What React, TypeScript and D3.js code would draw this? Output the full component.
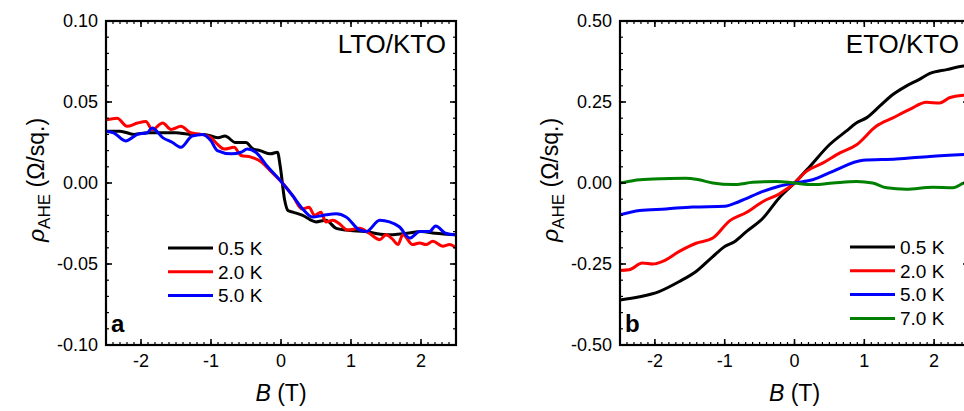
import React from 'react';
import * as d3 from 'd3';

// B (T) vs rho_AHE (Ohm/sq.)
const ltoK05: [number, number][] = [
  [-2.5, 0.032], [-2.3, 0.032], [-2.1, 0.030], [-1.9, 0.031], [-1.7, 0.031], [-1.5, 0.031],
  [-1.3, 0.030], [-1.1, 0.030], [-0.9, 0.028], [-0.8, 0.029], [-0.65, 0.025], [-0.5, 0.025],
  [-0.4, 0.021], [-0.3, 0.020], [-0.15, 0.018], [-0.05, 0.019], [-0.01, 0.010], [0.05, -0.010],
  [0.1, -0.017], [0.17, -0.018], [0.31, -0.020], [0.5, -0.024], [0.64, -0.023], [0.79, -0.028],
  [0.93, -0.029], [1.2, -0.030], [1.5, -0.032], [1.8, -0.031], [2.0, -0.030], [2.2, -0.031],
  [2.5, -0.032],
];
const ltoK20: [number, number][] = [
  [-2.5, 0.039], [-2.34, 0.040], [-2.2, 0.035], [-2.05, 0.037], [-1.93, 0.038], [-1.84, 0.033],
  [-1.69, 0.037], [-1.57, 0.033], [-1.43, 0.035], [-1.29, 0.031], [-1.14, 0.030], [-1.0, 0.028],
  [-0.91, 0.024], [-0.81, 0.021], [-0.67, 0.022], [-0.57, 0.017], [-0.43, 0.016], [-0.28, 0.013],
  [-0.14, 0.007], [0, 0.001], [0.17, -0.008], [0.3, -0.016], [0.4, -0.015], [0.48, -0.020],
  [0.57, -0.018], [0.64, -0.024], [0.74, -0.023], [0.83, -0.025], [0.95, -0.029], [1.12, -0.028],
  [1.26, -0.031], [1.41, -0.035], [1.5, -0.032], [1.6, -0.035], [1.67, -0.038], [1.74, -0.032],
  [1.88, -0.038], [1.98, -0.037], [2.07, -0.038], [2.17, -0.036], [2.31, -0.039], [2.41, -0.038],
  [2.5, -0.040],
];
const ltoK50: [number, number][] = [
  [-2.5, 0.032], [-2.39, 0.031], [-2.22, 0.026], [-2.05, 0.030], [-1.91, 0.031], [-1.84, 0.034],
  [-1.69, 0.028], [-1.55, 0.025], [-1.43, 0.022], [-1.27, 0.029], [-1.12, 0.030], [-1.0, 0.026],
  [-0.91, 0.020], [-0.71, 0.018], [-0.57, 0.019], [-0.48, 0.021], [-0.36, 0.019], [-0.19, 0.010],
  [0, 0.001], [0.17, -0.008], [0.31, -0.016], [0.45, -0.021], [0.6, -0.020], [0.79, -0.019],
  [0.93, -0.021], [1.12, -0.029], [1.22, -0.030], [1.41, -0.023], [1.55, -0.024], [1.69, -0.027],
  [1.84, -0.034], [1.98, -0.030], [2.12, -0.030], [2.21, -0.0265], [2.35, -0.031], [2.5, -0.032],
];

const etoK05: [number, number][] = [
  [-2.5, -0.361], [-2.22, -0.351], [-1.94, -0.335], [-1.65, -0.304], [-1.41, -0.273],
  [-1.17, -0.227], [-1.0, -0.196], [-0.86, -0.181], [-0.69, -0.150], [-0.45, -0.108],
  [-0.22, -0.046], [0, 0], [0.22, 0.051], [0.5, 0.118], [0.74, 0.160], [0.89, 0.186],
  [1.03, 0.201], [1.22, 0.237], [1.41, 0.273], [1.6, 0.299], [1.79, 0.320], [1.94, 0.338],
  [2.18, 0.350], [2.43, 0.361], [2.5, 0.362],
];
const etoK20: [number, number][] = [
  [-2.5, -0.270], [-2.37, -0.268], [-2.18, -0.247], [-2.03, -0.250], [-1.89, -0.242],
  [-1.65, -0.211], [-1.41, -0.186], [-1.17, -0.170], [-0.93, -0.117], [-0.69, -0.091],
  [-0.45, -0.057], [-0.22, -0.034], [0, 0], [0.17, 0.036], [0.41, 0.062], [0.65, 0.093],
  [0.89, 0.118], [1.17, 0.175], [1.41, 0.201], [1.65, 0.227], [1.89, 0.249], [2.08, 0.247],
  [2.22, 0.263], [2.43, 0.271], [2.5, 0.272],
];
const etoK50: [number, number][] = [
  [-2.5, -0.098], [-2.22, -0.085], [-1.84, -0.080], [-1.46, -0.074], [-1.0, -0.072],
  [-0.79, -0.057], [-0.45, -0.026], [-0.22, -0.010], [0, 0], [0.26, 0.010], [0.55, 0.036],
  [0.98, 0.070], [1.46, 0.074], [1.94, 0.082], [2.5, 0.089],
];
const etoK70: [number, number][] = [
  [-2.5, 0.0], [-2.3, 0.008], [-2.03, 0.012], [-1.56, 0.015], [-1.37, 0.010], [-1.17, 0.0],
  [-0.88, -0.005], [-0.6, 0.002], [-0.26, 0.005], [0, 0], [0.26, -0.005], [0.55, 0.0],
  [0.89, 0.005], [1.12, 0.0], [1.32, -0.015], [1.6, -0.019], [1.98, -0.013], [2.27, -0.015],
  [2.43, 0.0], [2.5, 0.003],
];

const ltoLabels = ['0.5 K', '2.0 K', '5.0 K'];
const etoLabels = ['0.5 K', '2.0 K', '5.0 K', '7.0 K'];
const seriesColors = ['#000000', '#ff0000', '#0000ff', '#008000'];

const xMajor = [-2, -1, 0, 1, 2];
const ltoYMajor = [-0.1, -0.05, 0, 0.05, 0.1];
const etoYMajor = [-0.5, -0.25, 0, 0.25, 0.5];

const FONT = '"Liberation Sans", Arial, Helvetica, sans-serif';

type PanelProps = {
  id: string;
  left: number;
  right: number;
  yDomain: [number, number];
  yMajor: number[];
  yMinorStep: number;
  series: [number, number][][];
  labels: string[];
  title: string;
  letter: string;
  legendX: number;
  legendY: number;
};

const fmtY = (v: number) => d3.format('.2f')(v).replace('−', '-');

const Panel = ({ id, left, right, yDomain, yMajor, yMinorStep, series, labels, title, letter, legendX, legendY }: PanelProps) => {
  const top = 21;
  const bottom = 345;
  const x = d3.scaleLinear().domain([-2.5, 2.5]).range([left, right]);
  const y = d3.scaleLinear().domain(yDomain).range([bottom, top]);
  const line = d3.line<[number, number]>()
    .x(d => x(d[0]))
    .y(d => y(d[1]))
    .curve(d3.curveMonotoneX);

  const xMinor = d3.range(-25, 26).map(i => i / 10);
  const nY = Math.round((yDomain[1] - yDomain[0]) / yMinorStep);
  const yMinor = d3.range(0, nY + 1).map(i => yDomain[0] + i * yMinorStep);

  const tk = '#000';
  return (
    <g>
      <defs>
        <clipPath id={`clip-${id}`}>
          <rect x={left} y={top} width={right - left} height={bottom - top} />
        </clipPath>
      </defs>
      <g clipPath={`url(#clip-${id})`}>
        {series.map((s, i) => (
          <path key={i} d={line(s) || ''} fill="none" stroke={seriesColors[i]} strokeWidth={3} strokeLinejoin="round" />
        ))}
      </g>
      {/* minor ticks */}
      {xMinor.map((v, i) => (
        <g key={'xm' + i}>
          <line x1={x(v)} x2={x(v)} y1={bottom} y2={bottom - 3} stroke={tk} strokeWidth={1.2} />
          <line x1={x(v)} x2={x(v)} y1={top} y2={top + 3} stroke={tk} strokeWidth={1.2} />
        </g>
      ))}
      {yMinor.map((v, i) => (
        <g key={'ym' + i}>
          <line x1={left} x2={left + 3} y1={y(v)} y2={y(v)} stroke={tk} strokeWidth={1.2} />
          <line x1={right} x2={right - 3} y1={y(v)} y2={y(v)} stroke={tk} strokeWidth={1.2} />
        </g>
      ))}
      {/* major ticks + labels */}
      {xMajor.map(v => (
        <g key={'xM' + v}>
          <line x1={x(v)} x2={x(v)} y1={bottom} y2={bottom - 6} stroke={tk} strokeWidth={1.6} />
          <line x1={x(v)} x2={x(v)} y1={top} y2={top + 6} stroke={tk} strokeWidth={1.6} />
          <text x={x(v)} y={bottom + 22} textAnchor="middle" fontSize={18} fontFamily={FONT}>
            {String(v).replace('−', '-')}
          </text>
        </g>
      ))}
      {yMajor.map(v => (
        <g key={'yM' + v}>
          <line x1={left} x2={left + 6} y1={y(v)} y2={y(v)} stroke={tk} strokeWidth={1.6} />
          <line x1={right} x2={right - 6} y1={y(v)} y2={y(v)} stroke={tk} strokeWidth={1.6} />
          <text x={left - 8} y={y(v)} dy="0.36em" textAnchor="end" fontSize={18} fontFamily={FONT}>
            {fmtY(v)}
          </text>
        </g>
      ))}
      <rect x={left} y={top} width={right - left} height={bottom - top} fill="none" stroke="#000" strokeWidth={2.2} />

      {/* legend */}
      {labels.map((lab, i) => (
        <g key={lab} transform={`translate(${legendX},${legendY + i * 23.8})`}>
          <line x1={0} x2={45} y1={0} y2={0} stroke={seriesColors[i]} strokeWidth={3} />
          <text x={50} y={0} dy="0.36em" fontSize={19} fontFamily={FONT}>{lab}</text>
        </g>
      ))}

      <text x={right - 10} y={53} textAnchor="end" fontSize={26} fontFamily={FONT}>{title}</text>
      <text x={left + 5} y={332} fontSize={24} fontWeight="bold" fontFamily={FONT}>{letter}</text>

      {/* axis titles */}
      <text x={(left + right) / 2} y={401} textAnchor="middle" fontSize={23} fontFamily={FONT}>
        <tspan fontStyle="italic">B</tspan> (T)
      </text>
      <text transform={`translate(${left - 62},180) rotate(-90)`} textAnchor="middle" fontSize={23} fontFamily={FONT}>
        <tspan fontStyle="italic">ρ</tspan>
        <tspan fontSize={17} dy={6}>AHE</tspan>
        <tspan dy={-6}> (Ω/sq.)</tspan>
      </text>
    </g>
  );
};

const App = () => (
  <div style={{ position: 'absolute', left: 0, top: 0 }}>
    <svg width={964} height={411} style={{ display: 'block', background: '#fff' }}>
      <Panel
        id="lto"
        left={106}
        right={456}
        yDomain={[-0.1, 0.1]}
        yMajor={ltoYMajor}
        yMinorStep={0.01}
        series={[ltoK05, ltoK20, ltoK50]}
        labels={ltoLabels}
        title="LTO/KTO"
        letter="a"
        legendX={168}
        legendY={248}
      />
      <Panel
        id="eto"
        left={620}
        right={969}
        yDomain={[-0.5, 0.5]}
        yMajor={etoYMajor}
        yMinorStep={0.05}
        series={[etoK05, etoK20, etoK50, etoK70]}
        labels={etoLabels}
        title="ETO/KTO"
        letter="b"
        legendX={850}
        legendY={247}
      />
    </svg>
  </div>
);

export default App;
